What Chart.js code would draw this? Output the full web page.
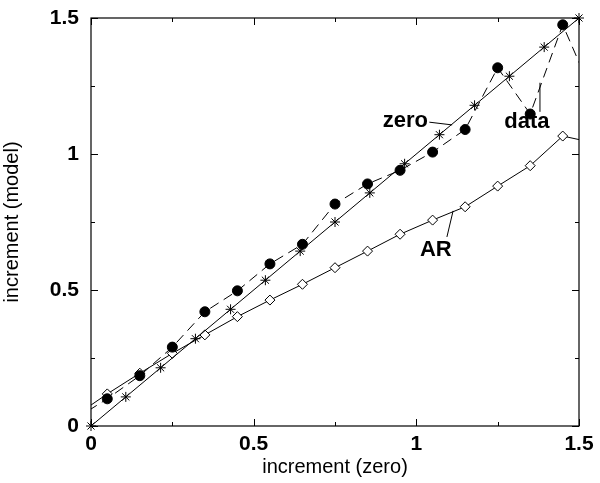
<!DOCTYPE html>
<html>
<head>
<meta charset="utf-8">
<script src="https://cdn.jsdelivr.net/npm/chart.js@4/dist/chart.umd.min.js"></script>
<style>
  html, body { margin: 0; padding: 0; background: #fff; }
  #wrap { width: 600px; height: 483px; }
</style>
</head>
<body>
<div id="wrap"><canvas id="chart" width="600" height="483"></canvas></div>
<script>
// values
const zeroX = [0, 0.107, 0.214, 0.321, 0.429, 0.536, 0.643, 0.75, 0.857, 0.964, 1.071, 1.179, 1.286, 1.393, 1.5];
const zeroY = [0, 0.107, 0.214, 0.321, 0.429, 0.536, 0.643, 0.75, 0.857, 0.964, 1.071, 1.179, 1.286, 1.393, 1.5];

const dataX = [-0.05, 0.05, 0.15, 0.25, 0.35, 0.45, 0.55, 0.65, 0.75, 0.85, 0.95, 1.05, 1.15, 1.25, 1.35, 1.45, 1.55];
const dataY = [0.025, 0.1, 0.185, 0.29, 0.42, 0.497, 0.596, 0.668, 0.816, 0.89, 0.94, 1.007, 1.09, 1.317, 1.147, 1.475, 1.2];
const arY   = [0.036, 0.118, 0.194, 0.267, 0.335, 0.402, 0.463, 0.521, 0.582, 0.643, 0.705, 0.757, 0.806, 0.882, 0.957, 1.066, 1.04];

const xTicks = [0, 0.25, 0.5, 0.75, 1, 1.25, 1.5];
const yTicks = [0, 0.25, 0.5, 0.75, 1, 1.25, 1.5];

// curve labels: text, text anchor, leader line from -> to (data units)
const labels = [
  { text: 'zero', x: 1.036, y: 1.121, align: 'right', from: [1.04, 1.117], to: [1.11, 1.107] },
  { text: 'data', x: 1.34, y: 1.118, align: 'center', from: [1.38, 1.155], to: [1.38, 1.262] },
  { text: 'AR', x: 1.06, y: 0.647, align: 'center', from: [1.094, 0.695], to: [1.113, 0.791] }
];

const pts = (xs, ys) => xs.map((x, i) => ({ x: x, y: ys[i] }));
const FONT = '"Liberation Sans", Arial, sans-serif';

const frame = {
  id: 'frame',
  afterDraw(chart) {
    const { ctx, chartArea: a, scales } = chart;
    ctx.save();
    ctx.strokeStyle = '#000';
    ctx.lineWidth = 1.2;
    ctx.strokeRect(a.left, a.top, a.right - a.left, a.bottom - a.top);
    ctx.lineWidth = 1;
    ctx.beginPath();
    xTicks.forEach(v => {
      const px = Math.round(scales.x.getPixelForValue(v)) + 0.5;
      const len = (v * 2) % 1 === 0 ? 7 : 4;
      ctx.moveTo(px, a.bottom); ctx.lineTo(px, a.bottom - len);
      ctx.moveTo(px, a.top); ctx.lineTo(px, a.top + len);
    });
    yTicks.forEach(v => {
      const py = Math.round(scales.y.getPixelForValue(v)) + 0.5;
      const len = (v * 2) % 1 === 0 ? 7 : 4;
      ctx.moveTo(a.left, py); ctx.lineTo(a.left + len, py);
      ctx.moveTo(a.right, py); ctx.lineTo(a.right - len, py);
    });
    ctx.stroke();

    // curve labels with leader lines
    ctx.font = 'bold 22px ' + FONT;
    ctx.fillStyle = '#000';
    ctx.textBaseline = 'middle';
    labels.forEach(l => {
      ctx.textAlign = l.align;
      ctx.fillText(l.text, scales.x.getPixelForValue(l.x), scales.y.getPixelForValue(l.y));
      ctx.beginPath();
      ctx.moveTo(scales.x.getPixelForValue(l.from[0]), scales.y.getPixelForValue(l.from[1]));
      ctx.lineTo(scales.x.getPixelForValue(l.to[0]), scales.y.getPixelForValue(l.to[1]));
      ctx.stroke();
    });
    ctx.restore();
  }
};

const noClip = { left: 0, right: 0, top: 0, bottom: 0 };

new Chart(document.getElementById('chart').getContext('2d'), {
  type: 'scatter',
  data: {
    datasets: [
      {
        label: 'zero',
        data: pts(zeroX, zeroY),
        showLine: true,
        borderColor: '#000',
        borderWidth: 1,
        pointStyle: 'star',
        pointRadius: 5,
        pointBorderWidth: 1,
        pointBorderColor: '#000',
        clip: 8
      },
      {
        label: 'data',
        data: pts(dataX, dataY),
        showLine: true,
        borderColor: '#000',
        borderWidth: 1,
        borderDash: [10, 6],
        pointStyle: 'circle',
        pointRadius: 5,
        pointBackgroundColor: '#000',
        pointBorderColor: '#000',
        clip: noClip
      },
      {
        label: 'AR',
        data: pts(dataX, arY),
        showLine: true,
        borderColor: '#000',
        borderWidth: 1,
        pointStyle: 'rectRot',
        pointRadius: 5,
        pointBackgroundColor: '#fff',
        pointBorderColor: '#000',
        pointBorderWidth: 1,
        clip: noClip
      }
    ]
  },
  options: {
    responsive: false,
    animation: false,
    layout: { padding: { top: 18, right: 21, left: 0, bottom: 0 } },
    plugins: { legend: { display: false }, tooltip: { enabled: false } },
    scales: {
      x: {
        type: 'linear',
        min: 0, max: 1.5,
        afterBuildTicks: s => { s.ticks = xTicks.map(v => ({ value: v })); },
        afterFit: s => { s.height = 57; s.paddingLeft = 0; s.paddingRight = 0; },
        grid: { display: false, drawTicks: false },
        border: { display: false },
        ticks: {
          color: '#000',
          padding: 6,
          font: { family: FONT, size: 21, weight: 'bold' },
          maxRotation: 0,
          autoSkip: false,
          callback: v => ((v * 2) % 1 === 0 ? String(v) : '')
        },
        title: {
          display: true,
          text: 'increment (zero)',
          color: '#000',
          font: { family: FONT, size: 20 },
          padding: { top: 0, bottom: 4 }
        }
      },
      y: {
        type: 'linear',
        min: 0, max: 1.5,
        afterBuildTicks: s => { s.ticks = yTicks.map(v => ({ value: v })); },
        afterFit: s => { s.width = 91; s.paddingTop = 0; s.paddingBottom = 0; },
        grid: { display: false, drawTicks: false },
        border: { display: false },
        ticks: {
          color: '#000',
          padding: 12,
          font: { family: FONT, size: 21, weight: 'bold' },
          autoSkip: false,
          callback: v => ((v * 2) % 1 === 0 ? String(v) : '')
        },
        title: {
          display: true,
          text: 'increment (model)',
          color: '#000',
          font: { family: FONT, size: 20 },
          padding: { top: 0, bottom: 0 }
        }
      }
    }
  },
  plugins: [frame]
});
</script>
</body>
</html>
